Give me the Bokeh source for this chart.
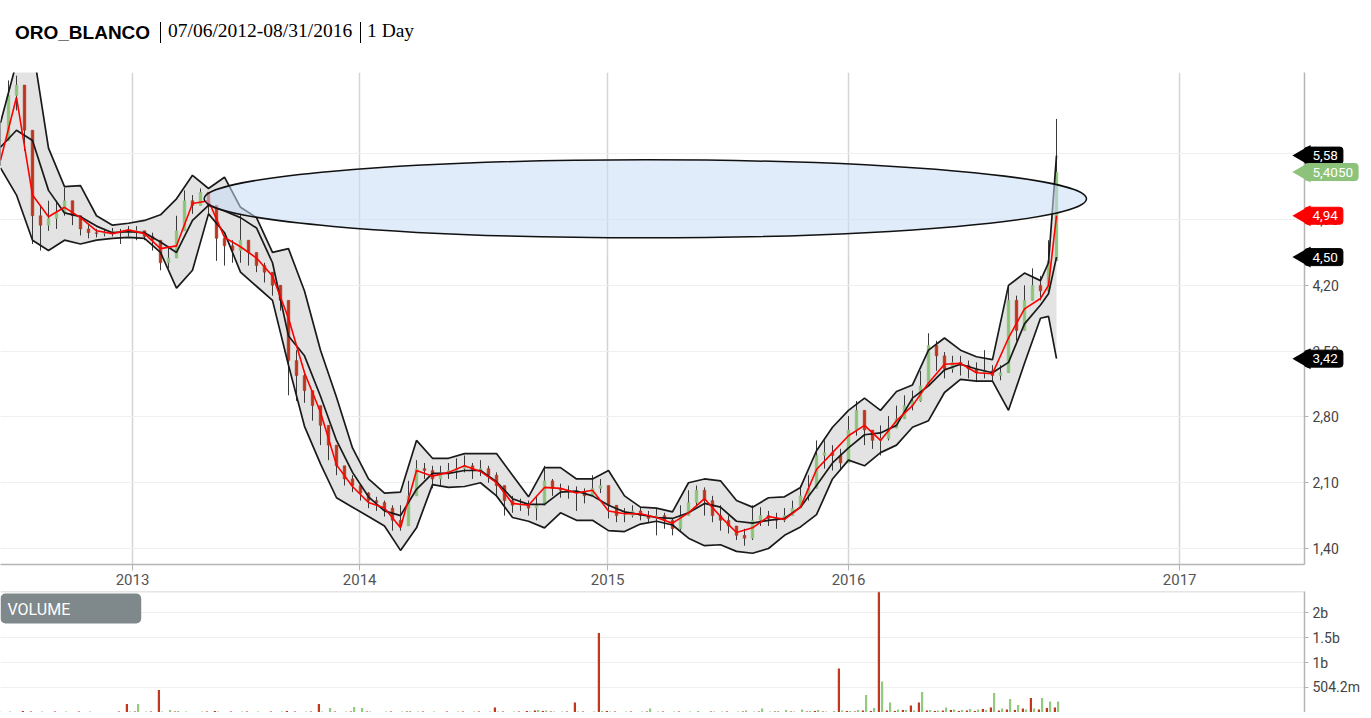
import math
from bokeh.plotting import figure
from bokeh.models import (Range1d, FixedTicker, Label, Div, ColumnDataSource,
                          CustomJSTickFormatter, Span, Text)
from bokeh.core.properties import value
from bokeh.layouts import column
from bokeh.embed import file_html
from bokeh.resources import INLINE
from bokeh.transform import dodge

# ---------------- data (bars: one bar per ~8 trading sessions) ----------------
close = [5.74, 6.22, 6.33, 5.85, 4.94, 4.84, 4.91, 4.97, 5.10, 4.94,
         4.80, 4.76, 4.75, 4.75, 4.77, 4.76, 4.78, 4.78, 4.72, 4.68,
         4.44, 4.49, 4.78, 5.10, 5.05, 5.19, 5.05, 4.70, 4.62, 4.57,
         4.68, 4.55, 4.41, 4.34, 4.20, 4.04, 3.40, 3.24, 3.08, 2.92,
         2.71, 2.50, 2.28, 2.14, 2.07, 1.99, 1.91, 1.89, 1.83, 1.70,
         1.64, 1.96, 2.25, 2.23, 2.14, 2.21, 2.23, 2.25, 2.28, 2.23,
         2.25, 2.18, 2.07, 1.91, 1.86, 1.86, 1.83, 1.86, 2.12, 2.04,
         2.02, 2.00, 2.00, 1.96, 2.04, 2.07, 1.86, 1.75, 1.75, 1.80,
         1.75, 1.72, 1.75, 1.70, 1.61, 1.75, 1.89, 2.02, 1.91, 1.75,
         1.70, 1.64, 1.54, 1.51, 1.70, 1.75, 1.72, 1.70, 1.75, 1.83,
         1.96, 2.04, 2.39, 2.42, 2.39, 2.31, 2.66, 2.87, 2.66, 2.55,
         2.57, 2.68, 2.78, 2.92, 2.97, 3.13, 3.56, 3.45, 3.31, 3.38,
         3.35, 3.31, 3.27, 3.29, 3.24, 3.27, 4.04, 3.72, 4.04, 4.20,
         4.14, 4.46, 5.405]
high = [5.95, 6.38, 6.43, 6.33, 5.10, 5.05, 5.10, 5.10, 5.24, 5.05,
        4.94, 4.84, 4.80, 4.80, 4.81, 4.80, 4.83, 4.83, 4.78, 4.76,
        4.68, 4.62, 4.94, 5.21, 5.16, 5.23, 5.16, 5.00, 4.73, 4.68,
        4.96, 4.68, 4.52, 4.44, 4.34, 4.20, 4.04, 3.51, 3.29, 3.08,
        2.92, 2.71, 2.50, 2.28, 2.18, 2.07, 2.00, 1.95, 1.91, 1.86,
        1.86, 2.12, 2.34, 2.31, 2.28, 2.28, 2.31, 2.36, 2.39, 2.31,
        2.34, 2.28, 2.21, 2.07, 1.96, 1.93, 1.91, 1.96, 2.28, 2.14,
        2.09, 2.07, 2.06, 2.04, 2.18, 2.14, 2.00, 1.86, 1.83, 1.86,
        1.84, 1.80, 1.83, 1.78, 1.72, 1.86, 2.02, 2.07, 2.05, 1.96,
        1.86, 1.75, 1.64, 1.61, 1.86, 1.84, 1.80, 1.78, 1.83, 1.91,
        2.07, 2.18, 2.55, 2.55, 2.50, 2.46, 2.81, 2.97, 2.81, 2.66,
        2.71, 2.81, 2.92, 3.03, 3.08, 3.29, 3.69, 3.61, 3.49, 3.45,
        3.45, 3.40, 3.38, 3.51, 3.35, 3.35, 4.20, 4.09, 4.20, 4.38,
        4.30, 4.68, 5.97]
low = [5.47, 5.85, 6.06, 5.63, 4.64, 4.57, 4.78, 4.80, 4.94, 4.84,
       4.73, 4.70, 4.71, 4.72, 4.72, 4.64, 4.72, 4.68, 4.68, 4.57,
       4.36, 4.38, 4.62, 4.89, 4.96, 5.05, 4.94, 4.46, 4.41, 4.44,
       4.44, 4.41, 4.34, 4.23, 4.09, 3.93, 3.03, 2.97, 2.95, 2.76,
       2.50, 2.34, 2.18, 2.07, 2.00, 1.91, 1.83, 1.80, 1.74, 1.59,
       1.59, 1.70, 1.96, 2.14, 2.04, 2.07, 2.14, 2.14, 2.21, 2.14,
       2.17, 2.10, 1.96, 1.75, 1.78, 1.80, 1.75, 1.70, 1.96, 1.96,
       1.94, 1.93, 1.80, 1.88, 1.96, 1.99, 1.72, 1.68, 1.68, 1.73,
       1.70, 1.68, 1.54, 1.61, 1.54, 1.59, 1.75, 1.86, 1.75, 1.68,
       1.59, 1.56, 1.49, 1.43, 1.49, 1.64, 1.64, 1.61, 1.68, 1.75,
       1.86, 1.91, 2.23, 2.25, 2.23, 2.23, 2.50, 2.60, 2.50, 2.46,
       2.39, 2.55, 2.71, 2.81, 2.87, 2.96, 3.35, 3.29, 3.21, 3.27,
       3.24, 3.21, 3.17, 3.21, 3.17, 3.19, 3.51, 3.61, 3.85, 4.04,
       4.04, 4.25, 4.46]

# indicator samples (every second bar, plus the last two bars)
ind_bar = list(range(0, 131, 2)) + [131, 132]
upper = [5.93, 6.57, 6.75, 5.66, 5.25, 5.26, 4.94, 4.84, 4.86, 4.89,
         4.95, 5.12, 5.37, 5.23, 5.35, 5.03, 4.92, 4.55, 4.59, 4.14,
         3.51, 3.01, 2.47, 2.14, 1.99, 2.00, 2.55, 2.36, 2.36, 2.41,
         2.41, 2.41, 2.18, 1.95, 2.26, 2.26, 2.14, 2.14, 2.23, 1.96,
         1.84, 1.83, 1.79, 2.10, 2.14, 2.12, 1.91, 1.84, 1.94, 1.95,
         2.05, 2.44, 2.69, 2.87, 3.00, 2.87, 3.07, 3.14, 3.51, 3.64,
         3.51, 3.44, 3.41, 4.20, 4.33, 4.25,
         4.44, 5.58]
middle = [5.67, 5.85, 5.74, 5.21, 4.97, 4.93, 4.83, 4.76, 4.77, 4.76,
          4.66, 4.55, 4.89, 5.05, 4.99, 4.92, 4.81, 4.44, 3.66, 3.45,
          3.02, 2.55, 2.21, 1.95, 1.80, 1.75, 2.03, 2.20, 2.20, 2.23,
          2.23, 2.11, 1.93, 1.87, 1.87, 2.00, 2.01, 1.96, 1.86, 1.79,
          1.76, 1.73, 1.72, 1.78, 1.88, 1.84, 1.69, 1.67, 1.70, 1.72,
          1.84, 2.07, 2.31, 2.47, 2.61, 2.63, 2.71, 3.00, 3.13, 3.30,
          3.36, 3.31, 3.27, 3.38, 3.79, 3.99,
          4.11, 4.50]
ema = [5.53, 6.20, 5.16, 4.93, 5.03, 4.92, 4.78, 4.75, 4.79, 4.75,
       4.59, 4.62, 5.07, 5.10, 4.71, 4.61, 4.49, 4.30, 3.85, 3.27,
       2.85, 2.29, 2.06, 1.89, 1.83, 1.62, 2.23, 2.17, 2.21, 2.28,
       2.22, 2.10, 1.88, 1.86, 2.05, 2.04, 1.99, 2.02, 1.80, 1.77,
       1.77, 1.73, 1.67, 1.78, 1.93, 1.74, 1.57, 1.62, 1.74, 1.71,
       1.84, 2.24, 2.42, 2.60, 2.71, 2.55, 2.76, 2.92, 3.16, 3.36,
       3.37, 3.27, 3.26, 3.64, 3.95, 4.06,
       4.20, 4.94]
lower = [5.45, 5.16, 4.68, 4.57, 4.68, 4.64, 4.68, 4.70, 4.71, 4.70,
         4.55, 4.17, 4.36, 4.96, 4.76, 4.34, 4.19, 4.04, 3.35, 2.70,
         2.30, 1.94, 1.84, 1.74, 1.64, 1.38, 1.62, 2.08, 2.05, 2.06,
         2.10, 1.96, 1.73, 1.69, 1.62, 1.78, 1.70, 1.70, 1.59, 1.58,
         1.66, 1.69, 1.65, 1.51, 1.43, 1.44, 1.37, 1.35, 1.40, 1.54,
         1.63, 1.76, 2.14, 2.34, 2.28, 2.42, 2.50, 2.69, 2.76, 3.06,
         3.20, 3.18, 3.18, 2.87, 3.37, 3.85,
         3.87, 3.42]

# volume per bar, billions of shares (down-session and up-session volume)
vol_down = [0.02, 0.00, 0.01, 0.03, 0.02, 0.00, 0.01, 0.02, 0.00, 0.01,
            0.02, 0.00, 0.01, 0.00, 0.01, 0.02, 0.17, 0.02, 0.01, 0.02,
            0.45, 0.01, 0.02, 0.01, 0.00, 0.01, 0.02, 0.03, 0.01, 0.02,
            0.01, 0.02, 0.00, 0.01, 0.02, 0.01, 0.03, 0.02, 0.01, 0.02,
            0.17, 0.01, 0.02, 0.01, 0.02, 0.01, 0.02, 0.01, 0.00, 0.02,
            0.01, 0.02, 0.01, 0.02, 0.01, 0.00, 0.02, 0.01, 0.02, 0.01,
            0.02, 0.01, 0.10, 0.02, 0.01, 0.02, 0.03, 0.04, 0.03, 0.02,
            0.01, 0.02, 0.20, 0.02, 0.01, 1.59, 0.03, 0.02, 0.01, 0.02,
            0.01, 0.02, 0.01, 0.02, 0.01, 0.02, 0.01, 0.00, 0.01, 0.02,
            0.01, 0.02, 0.01, 0.02, 0.01, 0.02, 0.01, 0.02, 0.01, 0.02,
            0.01, 0.02, 0.03, 0.02, 0.01, 0.88, 0.03, 0.02, 0.04, 0.03,
            2.90, 0.04, 0.03, 0.05, 0.14, 0.20, 0.04, 0.03, 0.04, 0.05,
            0.03, 0.04, 0.03, 0.07, 0.10, 0.04, 0.06, 0.05, 0.08, 0.29,
            0.06, 0.09, 0.10]
vol_up = [0.01, 0.02, 0.00, 0.01, 0.00, 0.02, 0.01, 0.00, 0.02, 0.00,
          0.01, 0.02, 0.00, 0.01, 0.00, 0.01, 0.02, 0.17, 0.02, 0.01,
          0.02, 0.05, 0.03, 0.02, 0.01, 0.02, 0.01, 0.02, 0.01, 0.01,
          0.02, 0.01, 0.02, 0.00, 0.01, 0.02, 0.01, 0.01, 0.02, 0.01,
          0.02, 0.09, 0.01, 0.02, 0.11, 0.09, 0.02, 0.01, 0.02, 0.01,
          0.02, 0.03, 0.02, 0.01, 0.02, 0.01, 0.01, 0.02, 0.01, 0.02,
          0.01, 0.02, 0.02, 0.01, 0.02, 0.01, 0.02, 0.05, 0.04, 0.02,
          0.02, 0.01, 0.02, 0.01, 0.02, 0.03, 0.02, 0.01, 0.02, 0.01,
          0.02, 0.08, 0.02, 0.01, 0.02, 0.01, 0.02, 0.03, 0.01, 0.02,
          0.02, 0.01, 0.02, 0.04, 0.02, 0.08, 0.02, 0.03, 0.05, 0.02,
          0.06, 0.03, 0.05, 0.02, 0.03, 0.04, 0.03, 0.05, 0.35, 0.09,
          0.62, 0.20, 0.06, 0.05, 0.04, 0.41, 0.05, 0.04, 0.10, 0.06,
          0.05, 0.07, 0.06, 0.05, 0.39, 0.08, 0.27, 0.15, 0.06, 0.08,
          0.29, 0.22, 0.22]

year_pos = [16.5, 44.9, 75.9, 106.0, 147.4]
year_labels = ["2013", "2014", "2015", "2016", "2017"]
price_ticks = [1.40, 2.10, 2.80, 3.50, 4.20, 4.90, 5.60]
vol_ticks = [0.5042, 1.0, 1.5, 2.0]
vol_tick_labels = ["504.2m", "1b", "1.5b", "2b"]

# drawn ellipse annotation (bar, price)
ell_x, ell_y, ell_w, ell_h = 80.6, 5.12, 110.3, 0.83

n = len(close)
assert len(high) == n and len(low) == n and len(vol_up) == n and len(vol_down) == n
assert len(upper) == len(ind_bar) == len(middle) == len(ema) == len(lower)

bars = list(range(n))
opens = [close[0]] + close[:-1]
UP, DOWN = "#8cc27a", "#b8361e"
cs = ColumnDataSource(dict(
    x=bars, o=opens, c=close,
    hi=[max(h, o, c) for h, o, c in zip(high, opens, close)],
    lo=[min(l, o, c) for l, o, c in zip(low, opens, close)],
    top=[max(o, c) for o, c in zip(opens, close)],
    bot=[min(o, c) for o, c in zip(opens, close)],
    col=[UP if c >= o else DOWN for o, c in zip(opens, close)],
))
ind = ColumnDataSource(dict(x=ind_bar, up=upper, mid=middle, ema=ema, lo=lower))

W = 1363
xr = Range1d(0, 163)
yr = Range1d(1.230, 6.464)
FONT = "Roboto"

# ---------------- title ----------------
title_html = (
    '<div style="position:relative;width:1363px;height:40px;">'
    '<span style="position:absolute;left:10px;top:18px;font-family:\'Liberation Sans\',Arial,sans-serif;'
    'font-weight:bold;font-size:19px;line-height:19px;color:#000;white-space:nowrap;">ORO_BLANCO</span>'
    '<span style="position:absolute;left:155px;top:17px;width:1px;height:21px;background:#000;"></span>'
    '<span style="position:absolute;left:163px;top:16px;font-family:\'Liberation Serif\',serif;'
    'font-size:19.5px;line-height:20px;color:#000;white-space:nowrap;">07/06/2012-08/31/2016</span>'
    '<span style="position:absolute;left:355px;top:17px;width:1px;height:21px;background:#000;"></span>'
    '<span style="position:absolute;left:362px;top:16px;font-family:\'Liberation Serif\',serif;'
    'font-size:19.5px;line-height:20px;color:#000;white-space:nowrap;">1 Day</span>'
    '</div>'
)
title = Div(text=title_html, width=W, height=40)

# ---------------- main price panel ----------------
p = figure(width=W, height=541, x_range=xr, y_range=yr, output_backend="svg",
           toolbar_location=None, y_axis_location="right",
           min_border_left=0, min_border_right=59, min_border_top=22, min_border_bottom=27,
           background_fill_color="white", border_fill_color="white", outline_line_color=None)

p.varea(x="x", y1="lo", y2="up", source=ind, fill_color="#e3e3e3")
p.segment(x0="x", y0="hi", x1="x", y1="lo", source=cs, line_color="#3a3a3a", line_width=1)
p.vbar(x="x", width=0.34, top="top", bottom="bot", source=cs,
       fill_color="col", line_color="col", line_width=0.5)
p.line(x="x", y="up", source=ind, line_color="#1a1a1a", line_width=1.7)
p.line(x="x", y="lo", source=ind, line_color="#1a1a1a", line_width=1.7)
p.line(x="x", y="mid", source=ind, line_color="#1a1a1a", line_width=1.7)
p.line(x="x", y="ema", source=ind, line_color="#ff0000", line_width=1.6)
p.ellipse(x=[ell_x], y=[ell_y], width=[ell_w], height=[ell_h],
          fill_color="#c8ddf5", fill_alpha=0.55, line_color="#111111", line_width=1.5)

# axes / grids
p.xaxis.ticker = FixedTicker(ticks=year_pos)
p.xaxis.formatter = CustomJSTickFormatter(
    args=dict(pos=year_pos, labels=year_labels),
    code="const i = pos.indexOf(tick); return i >= 0 ? labels[i] : '';")
p.xaxis.axis_line_color = "#b5b5b5"
p.xaxis.axis_line_width = 1.5
p.xaxis.major_tick_line_color = "#b5b5b5"
p.xaxis.major_tick_out = 6
p.xaxis.major_tick_in = 0
p.xaxis.minor_tick_line_color = None
p.xaxis.major_label_text_font = FONT
p.xaxis.major_label_text_font_size = "15px"
p.xaxis.major_label_text_color = "#555555"
p.xaxis.major_label_standoff = 3

p.yaxis.ticker = FixedTicker(ticks=price_ticks)
p.yaxis.formatter = CustomJSTickFormatter(code="return tick.toFixed(2).replace('.', ',');")
p.yaxis.axis_line_color = "#b5b5b5"
p.yaxis.axis_line_width = 1.5
p.yaxis.major_tick_line_color = "#b5b5b5"
p.yaxis.major_tick_out = 4
p.yaxis.major_tick_in = 0
p.yaxis.minor_tick_line_color = None
p.yaxis.major_label_text_font = FONT
p.yaxis.major_label_text_font_size = "14px"
p.yaxis.major_label_text_color = "#444444"
p.yaxis.major_label_standoff = 4

p.xgrid.grid_line_color = "#d4d4d4"
p.xgrid.grid_line_width = 1.5
p.ygrid.grid_line_color = "#efefef"
p.ygrid.grid_line_width = 1

# price tags on the right axis (last values of each series)
tag_vals = [upper[-1], close[-1], ema[-1], middle[-1], lower[-1]]
tag_txt = [f"{upper[-1]:.2f}", f"{close[-1]:.4f}", f"{ema[-1]:.2f}",
           f"{middle[-1]:.2f}", f"{lower[-1]:.2f}"]
tag_txt = [t.replace(".", ",") for t in tag_txt]
tag_col = ["#000000", "#8cc27a", "#ff0000", "#000000", "#000000"]
x_end = xr.end
tags = ColumnDataSource(dict(x=[x_end] * 5, y=tag_vals, t=tag_txt, c=tag_col))

p.scatter(x="x", y="y", source=tags, marker="triangle", angle=math.pi / 2, size=21,
          fill_color="c", line_color=None, level="overlay")
if "background_fill_color" in Text.properties():
    p.text(x="x", y="y", text="t", source=tags, text_color="white",
           text_font=value(FONT), text_font_size="13.5px", text_baseline="middle",
           text_align="left", background_fill_color="c", border_line_color="c",
           padding=dict(left=8, right=5, top=4, bottom=4), border_radius=3,
           level="overlay")
else:
    px_per_bar = 1304 / (xr.end - xr.start)
    p.quad(left=[x_end] * 5, right=[x_end + 40 / px_per_bar] * 5,
           top=[v + 10 / 94 for v in tag_vals], bottom=[v - 10 / 94 for v in tag_vals],
           fill_color=tag_col, line_color=None, level="overlay")
    p.text(x="x", y="y", text="t", source=tags, text_color="white", x_offset=8,
           text_font=value(FONT), text_font_size="13px", text_baseline="middle",
           text_align="left", level="overlay")

# ---------------- volume panel ----------------
yv = Range1d(0, 2.42)
pv = figure(width=W, height=121, x_range=xr, y_range=yv, output_backend="svg",
            toolbar_location=None, y_axis_location="right",
            min_border_left=0, min_border_right=59, min_border_top=0, min_border_bottom=0,
            background_fill_color="white", border_fill_color="white", outline_line_color=None)
vs = ColumnDataSource(dict(x=bars, down=vol_down, up=vol_up))
pv.vbar(x=dodge("x", -0.2, range=xr), width=0.28, top="down", bottom=0, source=vs,
        fill_color="#c0391d", line_color=None)
pv.vbar(x=dodge("x", 0.2, range=xr), width=0.28, top="up", bottom=0, source=vs,
        fill_color="#93ca80", line_color=None)
pv.xaxis.visible = False
pv.xgrid.grid_line_color = None
pv.ygrid.grid_line_color = "#efefef"
pv.yaxis.ticker = FixedTicker(ticks=vol_ticks)
pv.yaxis.formatter = CustomJSTickFormatter(
    args=dict(pos=vol_ticks, labels=vol_tick_labels),
    code="const i = pos.indexOf(tick); return i >= 0 ? labels[i] : '';")
pv.yaxis.axis_line_color = "#b5b5b5"
pv.yaxis.axis_line_width = 1.5
pv.yaxis.major_tick_line_color = "#b5b5b5"
pv.yaxis.major_tick_out = 4
pv.yaxis.major_tick_in = 0
pv.yaxis.minor_tick_line_color = None
pv.yaxis.major_label_text_font = FONT
pv.yaxis.major_label_text_font_size = "14px"
pv.yaxis.major_label_text_color = "#444444"
pv.yaxis.major_label_standoff = 4
pv.add_layout(Span(location=yv.end, dimension="width", line_color="#cccccc", line_width=1.5))
pv.add_layout(Label(x=0, y=104, x_units="screen", y_units="screen", text="VOLUME",
                    text_color="white", text_font=FONT, text_font_size="16px",
                    text_baseline="middle", text_align="left",
                    background_fill_color="#7f888b",
                    padding=dict(left=7, right=71, top=6, bottom=5), border_radius=5))

layout = column(title, p, pv)
open("out.html", "w").write(file_html(layout, INLINE))
